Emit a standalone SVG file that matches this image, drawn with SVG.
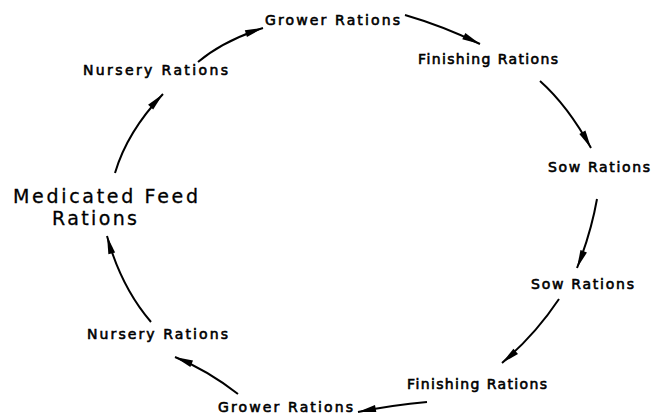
<svg xmlns="http://www.w3.org/2000/svg" width="651" height="415" viewBox="0 0 651 415">
<style>
.lbl{font-family:"DejaVu Sans","Liberation Sans",sans-serif;font-size:14px;fill:#000;stroke:#000;stroke-width:0.6}
.big{font-family:"DejaVu Sans","Liberation Sans",sans-serif;font-size:19px;fill:#000;stroke:#000;stroke-width:0.3}
.c{fill:none;stroke:#000;stroke-width:2;marker-end:url(#ah)}
</style>
<defs>
<marker id="ah" markerUnits="userSpaceOnUse" markerWidth="20" markerHeight="10" refX="18" refY="0" viewBox="0 -5 20 10" orient="auto" overflow="visible">
<path d="M0,-3.5 L18,0 L0,3.5 z" fill="#000"/>
</marker>
</defs>
<rect width="651" height="415" fill="#fff"/>
<g id="connectors">
<path class="c" d="M115,173 Q127,132 163,94"/>
<path class="c" d="M198,62 Q223,41 263,28"/>
<path class="c" d="M405,15 Q443,26 480,44"/>
<path class="c" d="M540,81 Q568,106 591,148"/>
<path class="c" d="M597,199 Q591,233 577,268"/>
<path class="c" d="M559,299 Q535,335 502,363"/>
<path class="c" d="M427,402 Q393,405 358,412"/>
<path class="c" d="M238,394 Q207,370 175,357"/>
<path class="c" d="M151,322 Q121,287 107,236"/>
</g>
<g id="n1"><text class="lbl" x="265" y="25" textLength="135">Grower Rations</text></g>
<g id="n2"><text class="lbl" x="418" y="64" textLength="140">Finishing Rations</text></g>
<g id="n3"><text class="lbl" x="548" y="172" textLength="102">Sow Rations</text></g>
<g id="n4"><text class="lbl" x="531" y="289" textLength="103">Sow Rations</text></g>
<g id="n5"><text class="lbl" x="407" y="389" textLength="140">Finishing Rations</text></g>
<g id="n6"><text class="lbl" x="218" y="412" textLength="135">Grower Rations</text></g>
<g id="n7"><text class="lbl" x="87" y="339" textLength="141">Nursery Rations</text></g>
<g id="n8"><text class="lbl" x="83" y="75" textLength="145">Nursery Rations</text></g>
<g id="n9"><text class="big" x="13" y="203" textLength="185">Medicated Feed</text><text class="big" x="52" y="225" textLength="85">Rations</text></g>
</svg>
